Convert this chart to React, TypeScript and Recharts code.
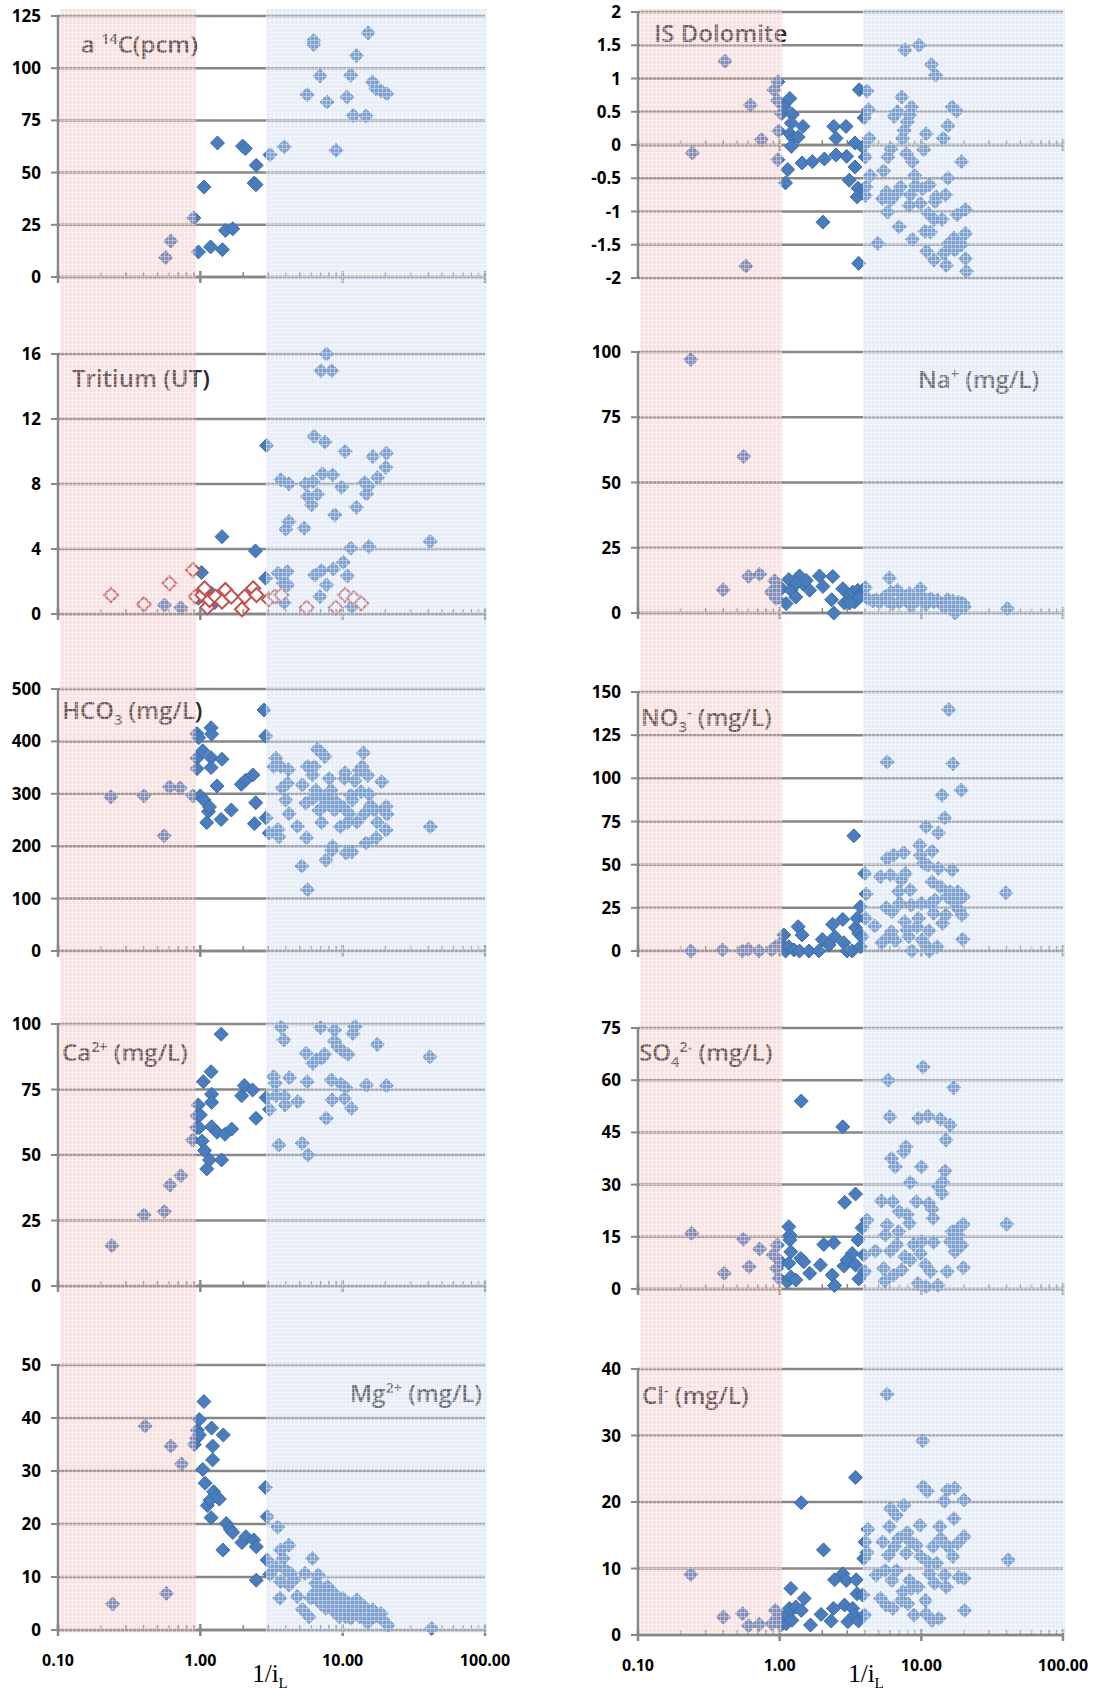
import React from "react";
import { ScatterChart, Scatter, XAxis, YAxis, CartesianGrid, ReferenceLine } from "recharts";

type Pt = [number, number];

// ---- data: [1/iL, value] ----
const c14: Pt[] = [
  [0.57, 9.3], [0.62, 17.2], [0.9, 28.3], [0.97, 12], [1.06, 43.1], [1.18, 14.4], [1.32, 64.2],
  [1.43, 13.1], [1.5, 22.3], [1.69, 23.1], [1.98, 62.7], [2.07, 61.5], [2.39, 45], [2.46, 44.2],
  [2.47, 53.5], [3.09, 58.6], [3.89, 62.3], [5.62, 87.3], [6.26, 113.3], [6.26, 111.3], [6.93, 96.3],
  [7.76, 83.8], [8.98, 60.7], [10.7, 86.2], [11.4, 96.6], [11.9, 77.4], [12.5, 106], [14.6, 77.1],
  [15.1, 116.9], [16.2, 93.4], [17.1, 90.2], [18.6, 89.1], [20.4, 87.8],
];

const dolomite: Pt[] = [
  [0.242, -0.12], [0.411, 1.26], [0.577, -1.82], [0.622, 0.6], [0.743, 0.08], [0.912, 0.83], [0.973, 0.95],
  [0.963, 0.67], [1.03, 0.47], [0.984, 0.21], [0.973, -0.22], [1.1, -0.57], [1.14, -0.37], [1.08, 0.57],
  [1.18, 0.7], [1.23, 0.46], [1.21, 0.33], [1.18, 0.17], [1.25, 0.1], [1.35, 0.12], [1.21, -0.02],
  [1.46, 0.28], [1.44, -0.27], [1.7, -0.25], [2.02, -1.16], [2.07, -0.21], [2.41, 0.28], [2.5, 0.1],
  [2.5, -0.15], [2.94, 0.28], [2.97, -0.17], [3.4, -0.33], [3.4, 0.03], [3.1, -0.53], [3.57, -0.65],
  [3.52, -0.78], [3.65, 0.83], [3.61, -1.78], [3.85, -0.03], [3.95, 0.41], [4.13, 0.81], [4.24, 0.53],
  [4.29, 0.1], [4.02, -0.18], [4.36, -0.46], [4.06, -0.63], [4.02, -0.76], [4.93, -1.48], [5.41, -0.39],
  [5.8, -0.18], [6.09, -0.06], [5.32, -0.81], [5.71, -0.71], [5.77, -1.01], [6.09, -0.83], [6.43, 0.43],
  [6.78, 0.5], [6.78, -0.72], [6.97, -1.23], [7.13, -0.63], [7.27, 0.72], [7.36, 0.1], [7.56, 0.22],
  [7.66, 1.43], [7.85, -0.13], [7.97, 0.35], [8.19, -0.91], [8.26, 0.45], [8.38, -0.75], [8.51, 0.57],
  [8.64, -0.25], [8.64, -1.42], [8.98, -0.46], [9.1, -0.61], [9.63, 1.5], [9.83, -0.88], [10.2, -0.66],
  [10.4, -0.07], [10.6, -1.3], [10.8, 0.17], [10.9, -1.6], [11.2, -1.03], [11.4, -0.6], [11.6, -1.31],
  [11.8, 1.21], [12.3, -1.73], [12.6, 1.05], [12.5, -0.85], [12.7, -0.78], [12.3, -1.12], [14, -1.12],
  [14.3, 0.1], [14.4, -1.63], [14.8, -0.75], [15, -1.81], [15.4, 0.29], [15.4, -0.5], [15.6, -1.48],
  [16.5, 0.57], [17, -1.4], [17.2, -1.58], [17.7, 0.51], [17.9, -1.05], [19.2, -0.25], [19.2, -1.5],
  [20.5, -1.33], [20.5, -0.97], [20.5, -1.71], [20.8, -1.9],
];

const tritium: Pt[] = [
  [0.56, 0.55], [0.73, 0.39], [0.94, 1.07], [0.97, 0.97], [1.02, 2.55], [1.09, 1.38], [1.2, 1.27],
  [1.26, 0.7], [1.42, 4.76], [2.44, 3.88], [2.92, 10.37], [2.88, 2.2], [3.52, 2.51], [3.68, 8.26],
  [3.82, 1.89], [3.88, 0.7], [3.99, 5.22], [4.07, 2.61], [4.19, 5.69], [4.19, 8.01], [4.1, 1.79],
  [5.37, 5.28], [5.49, 8.01], [5.66, 7.23], [6.05, 6.72], [6.2, 8.15], [6.3, 10.93], [6.36, 2.4],
  [6.65, 7.37], [6.92, 1.07], [7.1, 2.67], [7.2, 8.63], [7.5, 10.58], [7.7, 1.79], [7.7, 16],
  [7.05, 14.97], [8.37, 14.97], [8.5, 8.56], [8.6, 2.77], [8.8, 6.1], [9.84, 7.8], [10.1, 3.18],
  [10.4, 10], [10.8, 2.34], [11.4, 4.05], [11.6, 0.45], [12.5, 6.57], [14.3, 8.09], [14.7, 7.39],
  [15.1, 7.85], [15.3, 4.15], [16.3, 9.69], [17.6, 8.4], [20.1, 9.02], [20.3, 9.9], [41.2, 4.46],
];

const tritiumRain: Pt[] = [
  [0.236, 1.17], [0.401, 0.6], [0.608, 1.89], [0.888, 2.71], [0.927, 1.07], [1.03, 1.17], [1.07, 1.58],
  [1.12, 0.41], [1.16, 0.86], [1.28, 1.07], [1.42, 0.76], [1.5, 1.48], [1.65, 1.07], [1.96, 0.29],
  [2.05, 1.07], [2.35, 1.58], [2.48, 1.17], [3.03, 0.9], [3.34, 1.07], [3.71, 1.17], [5.58, 0.39],
  [8.96, 0.39], [10.4, 1.17], [12, 0.97], [13.5, 0.66],
];

const sodium: Pt[] = [
  [0.236, 97.1], [0.399, 8.9], [0.558, 60], [0.602, 14], [0.723, 14.8], [0.922, 12.3], [0.873, 8],
  [0.947, 5.5], [1.03, 9.3], [1.11, 3.6], [1.16, 12.8], [1.2, 8.7], [1.3, 6.1], [1.38, 14.2], [1.46, 11.2],
  [1.63, 8.7], [1.91, 14.2], [2.02, 10.2], [2.37, 14], [2.33, 5.1], [2.41, 0], [2.79, 9.3], [2.87, 3.8],
  [3.11, 6.8], [3.28, 8], [3.47, 4.9], [3.56, 8.7], [3.76, 7.4], [4.03, 9.7], [4.18, 5.5], [4.79, 5.1],
  [5.49, 6.1], [5.95, 13.4], [6.11, 8], [6.27, 3.6], [6.81, 8.7], [7.59, 5.5], [8.24, 7.4], [8.93, 4.2],
  [9.84, 9.3], [10.2, 6.1], [10.8, 3.3], [11.7, 5.5], [13, 4.9], [13.7, 3.6], [15.3, 5.1], [16.2, 2.9],
  [17.3, 0], [18.3, 4.2], [19.6, 3.8], [20.1, 2.3], [40.5, 1.7], [4.54, 4.6], [5.06, 4.2], [5.78, 4.6],
  [7.0, 4.2], [7.8, 6.1], [8.45, 2.9], [9.4, 4.9], [11.1, 4.9], [12.3, 4.2], [14.5, 2.3], [16.6, 4.6],
  [19.0, 2.6], [1.31, 11.2], [1.54, 12.5], [3.37, 4.2], [3.66, 6.1], [3.11, 3.8],
];

const bicarbonate: Pt[] = [
  [0.235, 294], [0.402, 296], [0.557, 220], [0.608, 313], [0.722, 311], [0.888, 296], [0.947, 415],
  [0.973, 407], [0.947, 368], [0.947, 348], [1.0, 296], [1.04, 382], [1.06, 288], [1.11, 245], [1.14, 266],
  [1.16, 275], [1.19, 426], [1.2, 414], [1.19, 369], [1.19, 350], [1.31, 315], [1.4, 251], [1.42, 366],
  [1.65, 269], [1.94, 318], [2.08, 326], [2.34, 336], [2.45, 283], [2.4, 243], [2.8, 460], [2.88, 410],
  [2.9, 254], [3.05, 225], [3.29, 352], [3.4, 368], [3.51, 232], [3.57, 218], [3.67, 352], [3.77, 311],
  [3.98, 288], [4.09, 320], [4.16, 346], [4.2, 262], [4.81, 238], [5.21, 317], [5.16, 162], [5.51, 282],
  [5.57, 216], [5.66, 117], [5.66, 352], [6.14, 336], [6.2, 291], [6.31, 352], [6.48, 307], [6.65, 385],
  [6.83, 269], [7.03, 380], [7.11, 245], [7.21, 294], [7.33, 276], [7.51, 371], [7.63, 173], [8.05, 329],
  [8.13, 288], [8.27, 307], [8.49, 200], [8.41, 192], [8.76, 269], [8.95, 285], [9.63, 237], [10, 275],
  [10.3, 329], [10.4, 340], [10.6, 187], [10.8, 245], [11.1, 262], [11.4, 297], [11.6, 189], [11.7, 288],
  [12.2, 325], [12.6, 246], [13.1, 345], [13.5, 304], [13.7, 352], [14, 378], [14.2, 262], [14.6, 206],
  [15, 335], [15.3, 299], [15.7, 278], [16.7, 269], [17.2, 216], [17.6, 245], [18.8, 323], [19.5, 269],
  [20.2, 276], [20.2, 231], [20.5, 261], [41.3, 237],
];

const nitrate: Pt[] = [
  [0.236, 0], [0.395, 0.6], [0.546, 0], [0.602, 1], [0.715, 0], [0.878, 0.6], [0.937, 2.5], [1.02, 4.4],
  [1.07, 9.3], [1.1, 0], [1.16, 2.5], [1.26, 0.6], [1.35, 14.1], [1.44, 9.3], [1.38, 0], [1.61, 0],
  [1.89, 0], [2.0, 6.7], [2.23, 3.5], [2.37, 15.4], [2.45, 8.3], [2.79, 18.3], [2.84, 4.8], [2.99, 0],
  [3.25, 0], [3.34, 66.7], [3.43, 13.5], [3.52, 18.9], [3.62, 10.2], [3.72, 25.6], [3.72, 2.5],
  [3.82, 8.3], [3.99, 44.9], [4.08, 33], [4.03, 18.9], [4.69, 14.5], [5.14, 43], [5.27, 4.8], [5.66, 25.1],
  [5.74, 109.5], [5.74, 53.6], [5.88, 8.3], [6.05, 44], [6.15, 11.2], [6.21, 22.8], [6.37, 55.5],
  [6.55, 6], [6.92, 34.3], [7.03, 27.6], [7.22, 41.1], [7.5, 56.9], [7.63, 17], [7.71, 44.9], [7.93, 12.1],
  [8.35, 35.3], [8.14, 8.3], [8.57, 0], [8.48, 26.6], [9.32, 14.1], [9.57, 18.9], [9.74, 61.3], [9.84, 55.5],
  [10, 27.6], [10.1, 6.4], [10.4, 50.7], [10.7, 3.5], [10.8, 71.9], [11.1, 49.7], [11.3, 11.8], [11.4, 0],
  [11.6, 27.6], [11.9, 57.8], [11.9, 40.1], [12.2, 21.8], [12.5, 29.5], [12.9, 2.5], [13.2, 47.8],
  [13.2, 68.4], [13.6, 37.2], [14, 90.2], [14.1, 16], [14.6, 77.1], [14.9, 20.8], [15.2, 31.4],
  [15.6, 139.8], [16, 34.3], [16.5, 46.8], [16.7, 108.5], [17.3, 27.6], [18.1, 34.3], [18.5, 23.7],
  [19.1, 93.1], [19.3, 20.8], [19.8, 31.4], [19.6, 6.7], [39.5, 33.7],
];

const calcium: Pt[] = [
  [0.239, 15.4], [0.403, 27.1], [0.558, 28.4], [0.612, 38.5], [0.731, 42.1], [0.883, 55.7], [0.942, 60.4],
  [0.947, 64.9], [0.968, 69.1], [0.984, 60.4], [1.0, 65.3], [1.03, 55.3], [1.05, 78], [1.07, 51.7],
  [1.11, 44.7], [1.16, 48.1], [1.19, 81.8], [1.2, 73.2], [1.2, 70.1], [1.2, 60.8], [1.31, 58.7],
  [1.4, 96.1], [1.41, 48.1], [1.49, 57.9], [1.66, 59.9], [1.95, 72.6], [2.04, 76.5], [2.33, 74.8],
  [2.46, 64], [2.9, 71.9], [3.06, 67.4], [3.28, 79.9], [3.36, 77.4], [3.4, 72.6], [3.56, 53.8], [3.7, 98.7],
  [3.86, 93.9], [3.9, 72.3], [3.94, 69.1], [4.23, 79.5], [4.84, 70.4], [5.2, 54.5], [5.54, 88.8],
  [5.63, 78], [5.7, 50], [6.17, 85], [6.51, 86.3], [7.0, 98.6], [7.14, 86.9], [7.46, 88.5], [7.67, 64],
  [8.33, 78.6], [8.42, 71], [8.77, 97.7], [8.77, 93.5], [9.24, 91.3], [9.78, 77], [10, 89.7], [10.3, 71.6],
  [10.5, 75.7], [10.9, 88.4], [11.5, 67.8], [11.8, 96.4], [12.2, 99], [14.7, 76.7], [17.5, 92.2],
  [20.3, 76.5], [41, 87.5],
];

const sulphate: Pt[] = [
  [0.239, 16], [0.406, 4.5], [0.555, 14.3], [0.608, 6.4], [0.723, 11.5], [0.902, 9.8], [0.963, 12.6],
  [0.952, 5.9], [0.989, 3.1], [1.02, 7.8], [1.13, 2.1], [1.16, 17.9], [1.18, 15.5], [1.18, 14.1],
  [1.16, 7.4], [1.2, 10.7], [1.2, 3.5], [1.3, 2.6], [1.41, 8.8], [1.42, 54], [1.48, 7.8], [1.63, 4.5],
  [1.94, 6.9], [2.05, 12.8], [2.35, 4], [2.41, 13.3], [2.44, 1], [2.79, 46.6], [2.84, 6.6], [2.88, 24.9],
  [2.99, 8.3], [3.25, 10.2], [3.43, 27.3], [3.43, 6.9], [3.58, 14.1], [3.62, 2.9], [3.82, 17.6],
  [3.92, 9.8], [3.99, 5], [4.14, 19.8], [4.74, 10.9], [5.23, 25.3], [5.42, 5.9], [5.52, 2.3], [5.57, 15.5],
  [5.74, 18.4], [5.83, 60], [5.99, 49.5], [6.05, 10.9], [6.15, 37.5], [6.28, 25.1], [6.37, 4], [6.55, 35.1],
  [6.73, 12.8], [6.92, 16.5], [6.99, 22.2], [7.29, 5.5], [7.5, 39.4], [7.63, 9.3], [7.79, 40.9],
  [7.93, 21.4], [8.24, 18.9], [8.35, 30.6], [8.35, 8.3], [8.8, 12.8], [9.22, 25.1], [9.47, 1.6], [9.57, 49],
  [9.84, 10.2], [10, 35.1], [10.1, 13.6], [10.3, 63.8], [10.7, 6.9], [10.8, 0.7], [11.1, 49.7],
  [11.3, 24.6], [11.6, 5], [11.9, 23], [12.1, 20.3], [12.2, 13.4], [13.1, 1.1], [13.2, 29.4], [13.6, 48.8],
  [14, 27.5], [14.1, 30.8], [14.7, 33.9], [14.9, 42.8], [15.2, 5], [16, 47.1], [16, 13.6], [16.5, 16.5],
  [16.9, 57.8], [17.3, 10.7], [18.1, 15.5], [18.8, 17.9], [19.3, 12.6], [19.8, 6.1], [19.8, 18.6],
  [40.1, 18.6],
];

const magnesium: Pt[] = [
  [0.242, 4.9], [0.41, 38.5], [0.578, 6.9], [0.62, 34.7], [0.738, 31.3], [0.907, 35], [0.942, 36.2],
  [0.952, 37.7], [0.984, 39.7], [0.984, 36.8], [1.04, 30.3], [1.06, 43.1], [1.08, 27.7], [1.12, 23.5],
  [1.17, 24.5], [1.19, 21.2], [1.2, 38.1], [1.22, 34.7], [1.22, 32.1], [1.24, 26.1], [1.3, 25.2],
  [1.36, 24.7], [1.45, 36.8], [1.44, 15.1], [1.52, 20.1], [1.62, 19], [1.69, 18.4], [1.96, 16.5],
  [2.09, 17.6], [2.37, 17], [2.47, 9.4], [2.47, 15.7], [2.87, 26.9], [2.95, 21.4], [2.95, 13.2],
  [3.08, 10.5], [3.38, 11.9], [3.5, 19.4], [3.62, 6], [3.66, 15.1], [3.66, 9.1], [3.82, 13.5], [3.97, 11.3],
  [4.19, 16], [4.19, 8.5], [4.3, 10.7], [4.8, 6.3], [5.21, 3.9], [5.44, 10.7], [5.81, 2.5], [5.97, 6],
  [6.13, 13.5], [6.47, 8.8], [6.74, 10.4], [7.21, 6.9], [7.63, 4.1], [7.83, 8.2], [8.26, 5.7], [8.71, 3.5],
  [9.2, 4.4], [9.98, 6], [10.5, 2.5], [11.1, 5], [11.8, 3.3], [12.6, 5.7], [13.5, 3.8], [14.2, 4.4],
  [15, 1.4], [15.5, 3.1], [16.3, 3.8], [17.2, 2.8], [18.1, 2.4], [19.2, 1.9], [20.8, 0.9], [42.2, 0.3],
  [6.3, 6.9], [7.0, 5], [8.05, 6.9], [8.5, 4.4], [9.46, 2.5], [10.3, 4.4], [11.4, 2.2], [12.1, 4.4],
  [13.1, 2.5], [14.6, 2.8], [16.7, 2.5], [18.6, 3.1], [8.71, 6.9], [6.83, 8.2], [4.54, 9.4],
];

const chloride: Pt[] = [
  [0.236, 9.1], [0.401, 2.7], [0.547, 3.2], [0.604, 1.4], [0.718, 1.6], [0.883, 1.7], [0.932, 3.7],
  [0.968, 2.7], [1.02, 1.5], [1.05, 2.5], [1.11, 1.7], [1.14, 3.2], [1.17, 4], [1.2, 7], [1.22, 2.2],
  [1.3, 4.2], [1.42, 19.9], [1.42, 3.7], [1.49, 5.5], [1.65, 1.5], [1.96, 3.1], [2.04, 12.8], [2.31, 2.1],
  [2.4, 4], [2.44, 8.3], [2.79, 9.2], [2.87, 4.5], [2.95, 8.2], [3.03, 2], [3.28, 4], [3.37, 3],
  [3.43, 23.7], [3.47, 8.3], [3.52, 6.2], [3.6, 2.1], [3.86, 6], [3.93, 11.5], [3.97, 3], [4.01, 14],
  [4.14, 12.4], [4.19, 15.9], [4.8, 9], [5.15, 5.5], [5.34, 14], [5.55, 9.7], [5.64, 4.5], [5.73, 36.2],
  [5.87, 12], [5.96, 16.3], [6.06, 19], [6.19, 8.2], [6.29, 4], [6.47, 13.3], [6.65, 18], [6.65, 9.7],
  [6.9, 14.5], [7.21, 5.2], [7.41, 6.5], [7.53, 19.5], [7.82, 12.3], [7.95, 15.4], [8.03, 4.7],
  [8.25, 8.2], [8.39, 14], [8.48, 7], [8.87, 3], [9.22, 13.5], [9.49, 7.2], [9.77, 16.5], [9.92, 11.8],
  [10.2, 29.2], [10.3, 22.3], [10.7, 5.2], [10.8, 3.2], [11, 21.6], [11.1, 11], [11.4, 9.2], [11.9, 2.2],
  [12.1, 13.3], [12.4, 7.8], [12.8, 10.8], [13.3, 2.5], [13.5, 16.3], [13.7, 14.5], [14.5, 20.1],
  [14.6, 9], [15, 7.2], [15.3, 21.8], [15.4, 13.3], [16.7, 11.8], [17, 17.5], [17.2, 22.1], [18, 13.8],
  [18.4, 8.7], [20, 20.3], [20, 14.8], [20.2, 3.7], [20, 8.5], [41, 11.3],
];

const X_TICKS = [
  0.1, 0.2, 0.3, 0.4, 0.5, 0.6, 0.7, 0.8, 0.9,
  1, 2, 3, 4, 5, 6, 7, 8, 9,
  10, 20, 30, 40, 50, 60, 70, 80, 90, 100,
];

// shaded ranges of 1/iL for each column
const LEFT_BANDS = { pink: [0.1, 0.9], blue: [2.78, 100] };
const RIGHT_BANDS = { pink: [0.1, 1.01], blue: [3.77, 100] };

// ---- layout ----
const COLS = {
  L: { left: 0, width: 525, right: 40, x0: 58, x1: 485, bands: LEFT_BANDS },
  R: { left: 580, width: 515, right: 32, x0: 638, x1: 1063, bands: RIGHT_BANDS },
};

const GRAY = "#878787";
const BLUE = "#4a7dbd";
const FONT = "'Open Sans', 'DejaVu Sans', sans-serif";

const toRows = (pts: Pt[]) => pts.map(([x, y]) => ({ x, y }));

const Diamond = (p: any) => {
  const { cx, cy, fill, stroke, sw } = p;
  if (cx == null || cy == null) return null;
  const r = 7;
  return (
    <path
      d={`M${cx},${cy - r}L${cx + r},${cy}L${cx},${cy + r}L${cx - r},${cy}Z`}
      fill={fill}
      stroke={stroke}
      strokeWidth={sw}
    />
  );
};

function LogTick(props: any) {
  const { x, y, payload, shift, showLabel } = props;
  const v = payload.value;
  const lg = Math.log10(v);
  const major = Math.abs(lg - Math.round(lg)) < 1e-6;
  const ay = y - shift;
  return (
    <g>
      <line
        x1={x}
        x2={x}
        y1={major ? ay - 6 : ay - 5}
        y2={major ? ay + 6 : ay}
        stroke={GRAY}
        strokeWidth={major ? 2.5 : 1.5}
      />
      {major && showLabel ? (
        <text x={x} y={ay + 36} textAnchor="middle" fontFamily={FONT} fontWeight={700} fontSize={16} fill="#000">
          {v.toFixed(2)}
        </text>
      ) : null}
    </g>
  );
}

type Series = { pts: Pt[]; hollow?: boolean };

function Panel(props: {
  col: "L" | "R";
  plotTop: number;
  plotBottom: number;
  domain: [number, number];
  ticks: number[];
  series: Series[];
  bottom?: boolean;
}) {
  const { col, plotTop, plotBottom, domain, ticks, series, bottom } = props;
  const c = COLS[col];
  const mTop = plotTop < 20 ? plotTop : 20;
  const mBottom = bottom ? 50 : 10;
  const plotH = plotBottom - plotTop;
  const shift = (plotH * (0 - domain[0])) / (domain[1] - domain[0]);
  return (
    <div style={{ position: "absolute", left: c.left, top: plotTop - mTop }}>
      <ScatterChart
        width={c.width}
        height={plotH + mTop + mBottom}
        margin={{ top: mTop, right: c.right, bottom: mBottom - 1, left: 0 }}
      >
        <CartesianGrid vertical={false} stroke={GRAY} strokeWidth={2.5} />
        <XAxis
          type="number"
          dataKey="x"
          scale="log"
          domain={[0.1, 100]}
          allowDataOverflow
          ticks={X_TICKS}
          interval={0}
          axisLine={false}
          tickLine={false}
          tickSize={0}
          tickMargin={0}
          height={1}
          tick={(p: any) => <LogTick {...p} shift={shift} showLabel={!!bottom} />}
        />
        <YAxis
          type="number"
          dataKey="y"
          domain={domain}
          ticks={ticks}
          interval={0}
          width={58}
          axisLine={{ stroke: GRAY, strokeWidth: 2.5 }}
          tickLine={{ stroke: GRAY, strokeWidth: 2 }}
          tickSize={7}
          tickMargin={10}
          tick={{ fontFamily: FONT, fontWeight: 700, fontSize: 17, fill: "#000" }}
        />
        <ReferenceLine y={0} stroke={GRAY} strokeWidth={2.5} />
        {series.map((s, i) => (
          <Scatter
            key={i}
            data={toRows(s.pts)}
            isAnimationActive={false}
            shape={(p: any) =>
              s.hollow ? (
                <Diamond cx={p.cx} cy={p.cy} fill="#ffffff" stroke="#c0504d" sw={2} />
              ) : (
                <Diamond cx={p.cx} cy={p.cy} fill={BLUE} stroke="#3d6ca8" sw={1} />
              )
            }
          />
        ))}
      </ScatterChart>
    </div>
  );
}

const sup = (t: string) => (
  <span style={{ fontSize: "0.6em", verticalAlign: "super", lineHeight: 0 }}>{t}</span>
);
const sub = (t: string) => (
  <span style={{ fontSize: "0.6em", verticalAlign: "sub", lineHeight: 0 }}>{t}</span>
);

function Title({ left, cy, children }: { left: number; cy: number; children: React.ReactNode }) {
  return (
    <div
      style={{
        position: "absolute",
        left,
        top: cy - 17,
        height: 34,
        lineHeight: "34px",
        fontFamily: FONT,
        fontWeight: 600,
        fontSize: 24,
        color: "#262626",
        whiteSpace: "nowrap",
      }}
    >
      {children}
    </div>
  );
}

const texture =
  "repeating-linear-gradient(0deg, rgba(255,255,255,0.38) 0 1px, transparent 1px 4px), repeating-linear-gradient(90deg, rgba(255,255,255,0.38) 0 1px, transparent 1px 4px)";

function Bands({ col }: { col: "L" | "R" }) {
  const c = COLS[col];
  const px = (v: number) => c.x0 + ((Math.log10(v) + 1) * (c.x1 - c.x0)) / 3;
  const top = 9;
  const bottom = 1633;
  const band = (r: number[], color: string) => (
    <div
      style={{
        position: "absolute",
        left: px(r[0]) + 2,
        width: px(r[1]) - px(r[0]),
        top,
        height: bottom - top,
        backgroundColor: color,
        backgroundImage: texture,
        pointerEvents: "none",
      }}
    />
  );
  return (
    <>
      {band(c.bands.pink, "rgba(232,176,176,0.36)")}
      {band(c.bands.blue, "rgba(196,211,236,0.42)")}
    </>
  );
}

function AxisTitle({ cx, top }: { cx: number; top: number }) {
  return (
    <div
      style={{
        position: "absolute",
        left: cx - 30,
        width: 60,
        top,
        textAlign: "center",
        fontFamily: "'Liberation Serif', 'DejaVu Serif', serif",
        fontSize: 25,
        lineHeight: "28px",
        color: "#000",
      }}
    >
      1/i{sub("L")}
    </div>
  );
}

export default function App() {
  return (
    <div style={{ position: "absolute", left: 0, top: 0, width: 1095, height: 1688, background: "#fff" }}>
      <Panel col="L" plotTop={16} plotBottom={277} domain={[0, 125]} ticks={[0, 25, 50, 75, 100, 125]} series={[{ pts: c14 }]} />
      <Panel col="R" plotTop={12} plotBottom={278} domain={[-2, 2]} ticks={[-2, -1.5, -1, -0.5, 0, 0.5, 1, 1.5, 2]} series={[{ pts: dolomite }]} />
      <Panel col="L" plotTop={354} plotBottom={614} domain={[0, 16]} ticks={[0, 4, 8, 12, 16]} series={[{ pts: tritium }, { pts: tritiumRain, hollow: true }]} />
      <Panel col="R" plotTop={352} plotBottom={613} domain={[0, 100]} ticks={[0, 25, 50, 75, 100]} series={[{ pts: sodium }]} />
      <Panel col="L" plotTop={689} plotBottom={951} domain={[0, 500]} ticks={[0, 100, 200, 300, 400, 500]} series={[{ pts: bicarbonate }]} />
      <Panel col="R" plotTop={692} plotBottom={951} domain={[0, 150]} ticks={[0, 25, 50, 75, 100, 125, 150]} series={[{ pts: nitrate }]} />
      <Panel col="L" plotTop={1024} plotBottom={1286} domain={[0, 100]} ticks={[0, 25, 50, 75, 100]} series={[{ pts: calcium }]} />
      <Panel col="R" plotTop={1028} plotBottom={1289} domain={[0, 75]} ticks={[0, 15, 30, 45, 60, 75]} series={[{ pts: sulphate }]} />
      <Panel col="L" plotTop={1365} plotBottom={1630} domain={[0, 50]} ticks={[0, 10, 20, 30, 40, 50]} series={[{ pts: magnesium }]} bottom />
      <Panel col="R" plotTop={1369} plotBottom={1635} domain={[0, 40]} ticks={[0, 10, 20, 30, 40]} series={[{ pts: chloride }]} bottom />

      <Title left={81} cy={44}>a {sup("14")}C(pcm)</Title>
      <Title left={654} cy={33}>IS Dolomite</Title>
      <Title left={72} cy={378}>Tritium (UT)</Title>
      <Title left={918} cy={379}>Na{sup("+")} (mg/L)</Title>
      <Title left={62} cy={710}>HCO{sub("3")} (mg/L)</Title>
      <Title left={641} cy={717}>NO{sub("3")}{sup("-")} (mg/L)</Title>
      <Title left={62} cy={1052}>Ca{sup("2+")} (mg/L)</Title>
      <Title left={639} cy={1052}>SO{sub("4")}{sup("2-")} (mg/L)</Title>
      <Title left={350} cy={1393}>Mg{sup("2+")} (mg/L)</Title>
      <Title left={642} cy={1395}>Cl{sup("-")} (mg/L)</Title>

      <Bands col="L" />
      <Bands col="R" />

      <AxisTitle cx={270} top={1660} />
      <AxisTitle cx={866} top={1660} />
    </div>
  );
}
